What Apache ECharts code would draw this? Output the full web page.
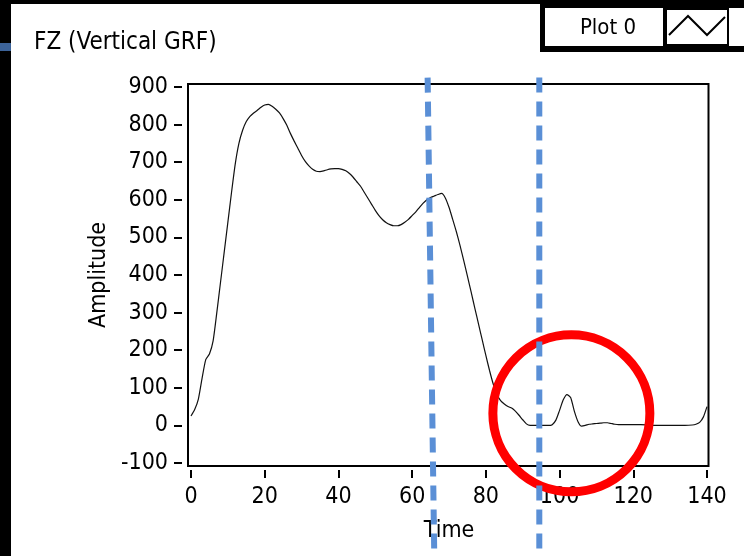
<!DOCTYPE html>
<html>
<head>
<meta charset="utf-8">
<script src="https://cdn.jsdelivr.net/npm/echarts@6/dist/echarts.min.js"></script>
<style>
  html, body { margin: 0; padding: 0; background: #fff; }
  #chart { width: 744px; height: 556px; }
</style>
</head>
<body>
<div id="chart"></div>
<script>
// FZ samples
const times = [
  0, 1, 2, 3, 4, 5, 6, 7, 8, 9, 10, 11, 12, 13, 14, 15, 16, 17, 18, 19,
  20, 21, 22, 23, 24, 25, 26, 27, 28, 29, 30, 31, 32, 33, 34, 35, 36, 37, 38, 39,
  40, 41, 42, 43, 44, 45, 46, 47, 48, 49, 50, 51, 52, 53, 54, 55, 56, 57, 58, 59,
  60, 61, 62, 63, 64, 65, 66, 67, 68, 69, 70, 71, 72, 73, 74, 75, 76, 77, 78, 79,
  80, 81, 82, 83, 84, 85, 86, 87, 88, 89, 90, 91, 92, 93, 94, 95, 96, 97, 98, 99,
  100, 101, 102, 103, 104, 105, 106, 107, 108, 109, 110, 111, 112, 113, 114, 115, 116,
  118, 120, 122, 124, 126, 128, 130, 132, 134, 136, 137, 138, 139, 140
];
const amplitudes = [
  25, 42, 70, 125, 175, 190, 225, 300, 380, 460, 540, 620, 695, 750, 785, 808, 822, 831, 838, 846,
  852, 854, 849, 841, 831, 816, 798, 776, 756, 737, 718, 702, 690, 681, 676, 675, 677, 680, 682, 683,
  683, 681, 677, 670, 660, 648, 636, 620, 604, 588, 572, 558, 547, 539, 534, 531, 531, 534, 540, 548,
  558, 568, 580, 591, 600, 606, 610, 614, 617, 605, 580, 548, 515, 478, 438, 397, 355, 312, 270, 228,
  186, 146, 110, 82, 66, 57, 50, 46, 38, 27, 15, 4, 0, 0, 0, 0, 0, 0, 2, 14,
  40, 68, 82, 74, 38, 10, -2, 0, 3, 4, 5, 6, 7, 7, 5, 3, 2,
  2, 2, 2, 1, 0, 0, 0, 0, 0, 1, 3, 8, 22, 50
];

// axis ranges
const xRange = [0, 140, 20];
const yRange = [-100, 900, 100];

// annotations drawn over the plot, in data units
const cursorLines = [
  { from: [64.2, 925], to: [66.0, -345] },
  { from: [94.5, 925], to: [94.5, -345] }
];
const circleCenter = [103.2, 32];

const titleText = 'FZ (Vertical GRF)';
const legendText = 'Plot 0';
const xName = 'Time';
const yName = 'Amplitude';

const FONT = '"DejaVu Sans Condensed", "Liberation Sans", sans-serif';

const chart = echarts.init(document.getElementById('chart'));

const option = {
  animation: false,
  backgroundColor: '#fff',
  title: {
    text: titleText,
    left: 29,
    top: 26,
    textStyle: { fontFamily: FONT, fontSize: 24, fontWeight: 'normal', color: '#000' }
  },
  grid: { left: 191, right: 37, top: 87, bottom: 93 },
  xAxis: {
    type: 'value',
    min: xRange[0],
    max: xRange[1],
    interval: xRange[2],
    offset: 7,
    name: xName,
    nameLocation: 'middle',
    nameGap: 50,
    nameTextStyle: { fontFamily: FONT, fontSize: 23, color: '#000' },
    axisLine: { show: false, onZero: false },
    axisTick: { show: true, length: 8, lineStyle: { color: '#000', width: 2 } },
    axisLabel: { fontFamily: FONT, fontSize: 23, color: '#000', margin: 16 },
    splitLine: { show: false }
  },
  yAxis: {
    type: 'value',
    min: yRange[0],
    max: yRange[1],
    interval: yRange[2],
    offset: 9,
    name: yName,
    nameLocation: 'middle',
    nameGap: 70,
    nameRotate: 90,
    nameTextStyle: { fontFamily: FONT, fontSize: 23, color: '#000' },
    axisLine: { show: false, onZero: false },
    axisTick: { show: true, length: 8, lineStyle: { color: '#000', width: 2 } },
    axisLabel: { fontFamily: FONT, fontSize: 23, color: '#000', margin: 14 },
    splitLine: { show: false }
  },
  series: [
    {
      type: 'line',
      data: times.map((t, i) => [t, amplitudes[i]]),
      showSymbol: false,
      smooth: 0.2,
      lineStyle: { color: '#111', width: 1.2 },
      z: 3
    }
  ],
  graphic: [
    // frame round the plot
    { type: 'rect', shape: { x: 188, y: 84, width: 520.5, height: 382 },
      style: { fill: 'none', stroke: '#000', lineWidth: 2 }, z: 5 },
    // black window edges
    { type: 'rect', shape: { x: 0, y: 0, width: 11, height: 556 }, style: { fill: '#000' }, z: 5 },
    { type: 'rect', shape: { x: 0, y: 0, width: 540, height: 4 }, style: { fill: '#000' }, z: 5 },
    { type: 'rect', shape: { x: 0, y: 43, width: 11, height: 8 }, style: { fill: '#3c6399' }, z: 6 },
    // legend box
    { type: 'rect', shape: { x: 540, y: 0, width: 204, height: 52 }, style: { fill: '#000' }, z: 5 },
    { type: 'rect', shape: { x: 545, y: 8, width: 118, height: 38 }, style: { fill: '#fff' }, z: 6 },
    { type: 'rect', shape: { x: 667, y: 10, width: 60, height: 34 }, style: { fill: '#fff' }, z: 6 },
    { type: 'rect', shape: { x: 729, y: 8, width: 15, height: 38 }, style: { fill: '#fff' }, z: 6 },
    { type: 'text', x: 608, y: 28, z: 7,
      style: { text: legendText, fontFamily: FONT, fontSize: 22, fill: '#000', align: 'center', verticalAlign: 'middle' } },
    { type: 'polyline', z: 7,
      shape: { points: [[669, 35], [688, 16], [707, 35], [725, 17]] },
      style: { fill: 'none', stroke: '#000', lineWidth: 2 } }
  ]
};

chart.setOption(option);

// overlays placed through the grid's own scale
const toPx = p => chart.convertToPixel({ gridIndex: 0 }, p);
const c = toPx(circleCenter);
const overlays = [
  { type: 'circle', z: 20, shape: { cx: c[0], cy: c[1], r: 78.5 },
    style: { fill: 'none', stroke: '#ff0000', lineWidth: 9 } }
];
cursorLines.forEach(l => {
  const a = toPx(l.from);
  const b = toPx(l.to);
  overlays.push({
    type: 'line', z: 21,
    shape: { x1: a[0], y1: a[1], x2: b[0], y2: b[1] },
    style: { stroke: '#5a8fd6', lineWidth: 6, lineDash: [15, 9] }
  });
});
chart.setOption({ graphic: option.graphic.concat(overlays) });

window.addEventListener('resize', () => chart.resize());
</script>
</body>
</html>
